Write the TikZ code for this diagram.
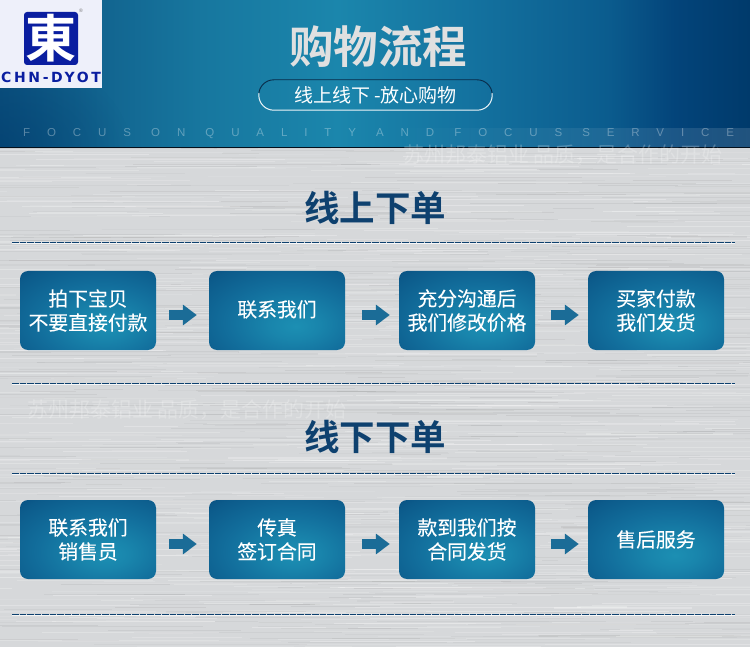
\documentclass[tikz,border=0pt]{standalone}
\usepackage{fontspec}
\setmainfont{Noto Sans CJK SC}
\newfontfamily\boxfont[FakeBold=0.15]{Noto Sans CJK SC}
\newfontfamily\headfont[BoldFont=*]{Noto Sans CJK SC Bold}
\newfontfamily\latinfont{Liberation Sans}
\newfontfamily\logofont{DejaVu Sans Bold}
\usetikzlibrary{arrows.meta,calc,fadings}
\definecolor{hdrC}{HTML}{003A6B}
\definecolor{navy}{HTML}{0E416F}
\definecolor{flowblue}{HTML}{1B6C97}
\definecolor{silver}{HTML}{D6D8DA}
\definecolor{boxA}{HTML}{1C8FB3}
\definecolor{boxB}{HTML}{126E9C}
\definecolor{boxC}{HTML}{06487A}
\definecolor{logoblue}{HTML}{0A1EA0}
\definecolor{logobg}{HTML}{EEF0FA}
\definecolor{hs0}{HTML}{0C5280}
\definecolor{hs1}{HTML}{126590}
\definecolor{hs2}{HTML}{17779F}
\definecolor{hs3}{HTML}{1B86AC}
\definecolor{hs4}{HTML}{1473A0}
\definecolor{hs5}{HTML}{0B5C8E}
\definecolor{hs6}{HTML}{03447A}
\pgfdeclarehorizontalshading{hdrshade}{100bp}{
 color(0bp)=(hs0); color(25bp)=(hs0); color(32bp)=(hs1); color(38.5bp)=(hs2); color(47.5bp)=(hs3); color(56bp)=(hs4);
 color(65.5bp)=(hs5); color(70bp)=(hs6); color(75bp)=(hdrC); color(100bp)=(hdrC)}
\pgfdeclareradialshading{boxshade}{\pgfpoint{7bp}{-10bp}}{
 color(0bp)=(boxA); color(9bp)=(boxA!70!boxB); color(24bp)=(boxB); color(38bp)=(boxC!50!boxB); color(47bp)=(boxC); color(100bp)=(boxC)}
\tikzfading[name=fadecorner, inner color=transparent!40, outer color=transparent!100]
\tikzfading[name=faderight, left color=transparent!100, right color=transparent!0]
\tikzset{
 flowbox/.style={draw=none,rounded corners=8pt,minimum width=136pt,minimum height=79pt,inner sep=0pt,
   shading=boxshade,text=white,align=center,font=\boxfont\fontsize{19.8}{24}\selectfont},
 flow/.style={draw=flowblue,line width=10pt,-{Triangle[length=14pt,width=20pt]}},
 rule/.style={draw=navy,line width=1pt,dash pattern=on 6.5pt off 1pt},
 ruleshine/.style={draw=white,line width=.8pt,opacity=.75},
 heading/.style={text=navy,font=\headfont\fontsize{35.5}{40}\selectfont},
 ghost/.style={text=white,text opacity=.24,font=\fontsize{21}{24}\selectfont},
}
\begin{document}
\begin{tikzpicture}[x=1pt,y=-1pt]
\useasboundingbox (0,0) rectangle (750,647);
% brushed metal
\fill[silver] (0,148) rectangle (750,647);
\begin{scope}
\clip (0,148) rectangle (750,647);
\pgfmathsetseed{4217}
\foreach \i in {1,...,1300}{
  \pgfmathsetmacro{\ya}{148+rnd*499}
  \pgfmathsetmacro{\xa}{-80+rnd*800}
  \pgfmathsetmacro{\len}{30+rnd*220}
  \pgfmathsetmacro{\wid}{.3+rnd*.9}
  \pgfmathsetmacro{\op}{.08+rnd*.2}
  \pgfmathparse{rnd<.55?1:0}
  \ifnum\pgfmathresult=1
    \draw[white,line width=\wid pt,opacity=\op] (\xa,\ya) -- ++(\len,0);
  \else
    \draw[black!50,line width=\wid pt,opacity=\op*.5] (\xa,\ya) -- ++(\len,0);
  \fi
}
\end{scope}
% header
\fill[shading=hdrshade] (0,0) rectangle (750,148);
\begin{scope}
\clip (0,0) rectangle (750,148);
\fill[hdrC,path fading=fadecorner] (-150,50) rectangle (130,246);
\fill[white,opacity=.13,path fading=faderight] (390,128) rectangle (750,148);
\end{scope}
\fill[black!75!navy] (0,146.8) rectangle (750,148.4);
% logo
\fill[logobg] (0,0) rectangle (102,88);
\fill[logoblue,rounded corners=3pt] (24,12) rectangle (78,65);
\node[text=white,inner sep=0pt,font=\headfont\fontsize{51}{54}\selectfont] (logochar) at (51,38.5) {東};
\node[text=logoblue,inner sep=0pt,font=\logofont\fontsize{14}{16}\selectfont\addfontfeature{LetterSpace=19}] (logotext) at (51,77.5) {CHN-DYOT};
\node[text=black!55,inner sep=0pt,font=\latinfont\fontsize{5}{5}\selectfont] (logomark) at (81,11) {®};
% title
\node[text=black!12,inner sep=0pt,font=\headfont\fontsize{44.5}{48}\selectfont] (title) at (378,47) {购物流程};
\node[minimum width=233pt,minimum height=30pt,inner sep=0pt,text=white,font=\fontsize{19}{22}\selectfont] (pill) at (375.5,95) {线上线下 -放心购物};
\begin{scope}
\clip (250,70) rectangle (500,94);
\draw[black!35!navy,line width=.9pt,rounded corners=15pt] (pill.north west) rectangle (pill.south east);
\end{scope}
\begin{scope}
\clip (250,94) rectangle (500,120);
\draw[white!92!hs3,line width=1pt,rounded corners=15pt] (pill.north west) rectangle (pill.south east);
\end{scope}
\node[anchor=west,inner sep=0pt,text=white,text opacity=.32,font=\latinfont\fontsize{11.5}{12}\selectfont\addfontfeature{LetterSpace=147}] (focus) at (23,134) {FOCUS ON QUALITY AND FOCUS SERVICE};
% watermarks
\node[ghost,inner sep=0pt] (ghostA) at (563,155) {苏州邦泰铝业 品质，是合作的开始};
\node[ghost,inner sep=0pt] (ghostB) at (187,410) {苏州邦泰铝业 品质，是合作的开始};
% headings
\node[heading,inner sep=0pt] (headA) at (375,208) {线上下单};
\node[heading,inner sep=0pt] (headB) at (375,437) {线下下单};
% rules
\foreach \yy in {242.5,383.5,473.5,614.5}{
  \draw[ruleshine] (12,\yy+1) -- (735,\yy+1);
  \draw[rule] (12,\yy) -- (735,\yy);
}
% boxes, upper row
\node[flowbox] (a1) at (88,310.5) {拍下宝贝\\不要直接付款};
\node[flowbox] (a2) at (277,310.5) {\raisebox{4pt}{联系我们}};
\node[flowbox] (a3) at (467,310.5) {充分沟通后\\我们修改价格};
\node[flowbox] (a4) at (656,310.5) {买家付款\\我们发货};
% boxes, lower row
\node[flowbox] (b1) at (88,539.5) {联系我们\\销售员};
\node[flowbox] (b2) at (277,539.5) {传真\\签订合同};
\node[flowbox] (b3) at (467,539.5) {款到我们按\\合同发货};
\node[flowbox] (b4) at (656,539.5) {售后服务};
% arrows
\foreach \r in {a,b}{
  \draw[flow,shorten <=13pt,shorten >=12pt] ($(\r1.east)+(0,4.5)$) -- ($(\r2.west)+(0,4.5)$);
  \draw[flow,shorten <=17pt,shorten >=9pt] ($(\r2.east)+(0,4.5)$) -- ($(\r3.west)+(0,4.5)$);
  \draw[flow,shorten <=16pt,shorten >=9pt] ($(\r3.east)+(0,4.5)$) -- ($(\r4.west)+(0,4.5)$);
}
\end{tikzpicture}
\end{document}
